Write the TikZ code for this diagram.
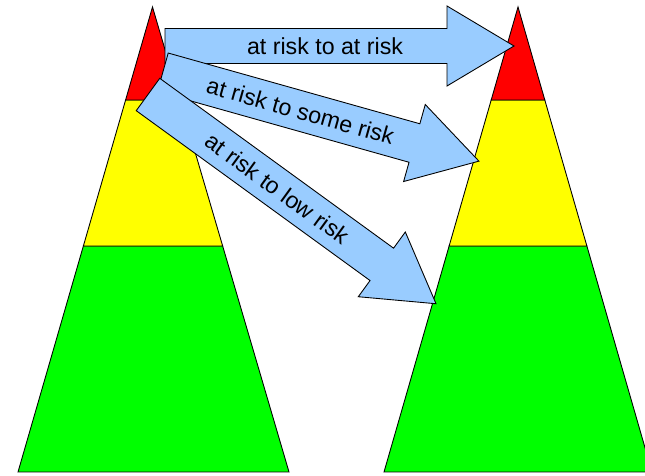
\documentclass[tikz,border=0pt]{standalone}
\usepackage{fontspec}
\setmainfont{Liberation Sans}
\usepackage{xcolor}
\usepackage{tikz}
\usetikzlibrary{calc}
\definecolor{riskred}{RGB}{255,0,0}
\definecolor{riskyellow}{RGB}{255,255,0}
\definecolor{riskgreen}{RGB}{0,255,0}
\definecolor{arrowblue}{RGB}{153,204,255}
\tikzset{
  band/.style={draw=black, line width=0.5pt, line join=miter},
  riskarrow/.style={draw=black, fill=arrowblue, line width=0.5pt, line join=miter},
  risklabel/.style={transform shape, inner sep=0pt, font=\fontsize{13.2}{15}\selectfont},
}
\begin{document}
\begin{tikzpicture}[x=0.02cm, y=0.02cm]
  \useasboundingbox (0,0) rectangle (645,476);
  \clip (0,0) rectangle (645,476);

  % the two pyramids: before and after
  \foreach \nm/\ax/\bl/\br in {before/152.5/18/289, after/518/384/652} {
    \coordinate (\nm-top) at (\ax,469);
    \coordinate (\nm-bl) at (\bl,4);
    \coordinate (\nm-br) at (\br,4);
    \coordinate (\nm-rl) at ($(\nm-top)!0.2!(\nm-bl)$);
    \coordinate (\nm-rr) at ($(\nm-top)!0.2!(\nm-br)$);
    \coordinate (\nm-yl) at ($(\nm-top)!0.514!(\nm-bl)$);
    \coordinate (\nm-yr) at ($(\nm-top)!0.514!(\nm-br)$);
    \draw[band, fill=riskgreen] (\nm-yl) -- (\nm-yr) -- (\nm-br) -- (\nm-bl) -- cycle;
    \draw[band, fill=riskyellow] (\nm-rl) -- (\nm-rr) -- (\nm-yr) -- (\nm-yl) -- cycle;
    \draw[band, fill=riskred] (\nm-top) -- (\nm-rr) -- (\nm-rl) -- cycle;
  }

  % block arrows from the red band
  \foreach \id/\tx/\ty/\ang/\len/\sw/\pos/\lab in {
      one/165/430/0/349/17.5/160/{at risk to at risk},
      two/162.8/403.7/-15.7/328.4/20/143/{at risk to some risk},
      three/148/381.5/-36/356/20/160/{at risk to low risk}} {
    \begin{scope}[shift={(\tx,\ty)}, rotate=\ang]
      \coordinate (\id-tail) at (0,0);
      \coordinate (\id-tip) at (\len,0);
      \draw[riskarrow] (0,-\sw) -- (\len-67,-\sw) -- (\len-67,-40) -- (\id-tip)
        -- (\len-67,40) -- (\len-67,\sw) -- (0,\sw) -- cycle;
      \node[risklabel] (\id-label) at (\pos,0) {\lab};
    \end{scope}
  }
\end{tikzpicture}
\end{document}
